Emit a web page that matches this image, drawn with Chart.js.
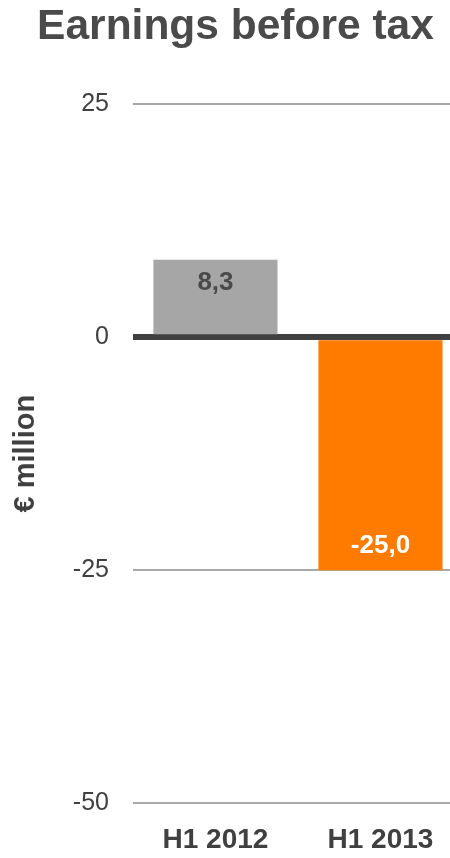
<!DOCTYPE html>
<html>
<head>
<meta charset="utf-8">
<title>Earnings before tax</title>
<script src="https://cdn.jsdelivr.net/npm/chart.js@4.4.1/dist/chart.umd.min.js"></script>
<style>
    html, body { margin: 0; padding: 0; background: #fff; overflow: hidden; }
    canvas { display: block; }
</style>
</head>
<body>
<canvas id="ebtChart" width="471" height="858"></canvas>
<script>
// Earnings before tax, € million
const periods = ['H1 2012', 'H1 2013'];
const earnings = [8.3, -25.0];
const barColors = ['#a6a6a6', '#ff7b00'];
const labelColors = ['#4a4a4a', '#ffffff'];
const yTicks = [25, 0, -25, -50];

const FONT = "'Liberation Sans', Arial, sans-serif";
const TEXT = '#404040';

// value labels written inside the end of each bar, decimal comma
const barLabels = {
    id: 'barLabels',
    afterDatasetsDraw(chart) {
        const ctx = chart.ctx;
        const meta = chart.getDatasetMeta(0);
        ctx.save();
        ctx.font = 'bold 26px ' + FONT;
        ctx.textAlign = 'center';
        ctx.textBaseline = 'middle';
        meta.data.forEach((bar, i) => {
            const v = earnings[i];
            const y = v >= 0 ? bar.y + 23 : bar.y - 24;
            ctx.fillStyle = labelColors[i];
            ctx.fillText(v.toFixed(1).replace('.', ','), bar.x, y);
        });
        ctx.restore();
    }
};

new Chart(document.getElementById('ebtChart'), {
    type: 'bar',
    data: {
        labels: periods,
        datasets: [{
            data: earnings,
            backgroundColor: barColors,
            borderWidth: 0,
            barPercentage: 0.752,
            categoryPercentage: 1
        }]
    },
    options: {
        responsive: false,
        animation: false,
        layout: { padding: { left: 8, right: 8, top: 0, bottom: -19 } },
        plugins: {
            legend: { display: false },
            tooltip: { enabled: false },
            title: {
                display: true,
                text: 'Earnings before tax',
                color: '#4a4a4a',
                font: { family: FONT, size: 42.5, weight: 'bold' },
                padding: { top: 2, bottom: 51 }
            }
        },
        scales: {
            x: {
                grid: { display: false, drawTicks: false },
                border: { display: false },
                ticks: {
                    color: TEXT,
                    padding: 20,
                    font: { family: FONT, size: 28, weight: 'bold' }
                }
            },
            y: {
                z: 1,
                min: -50,
                max: 25,
                afterBuildTicks: axis => {
                    axis.ticks = yTicks.map(v => ({ value: v }));
                },
                grid: {
                    drawTicks: false,
                    color: c => c.tick && c.tick.value === 0 ? '#404040' : '#a9a9a9',
                    lineWidth: c => c.tick && c.tick.value === 0 ? 6 : 2
                },
                border: { display: false },
                ticks: {
                    color: TEXT,
                    padding: 24,
                    font: { family: FONT, size: 25 }
                },
                title: {
                    display: true,
                    text: '€ million',
                    color: TEXT,
                    font: { family: FONT, size: 29, weight: 'bold' },
                    padding: { top: 1, bottom: 5 }
                }
            }
        }
    },
    plugins: [barLabels]
});
</script>
</body>
</html>
